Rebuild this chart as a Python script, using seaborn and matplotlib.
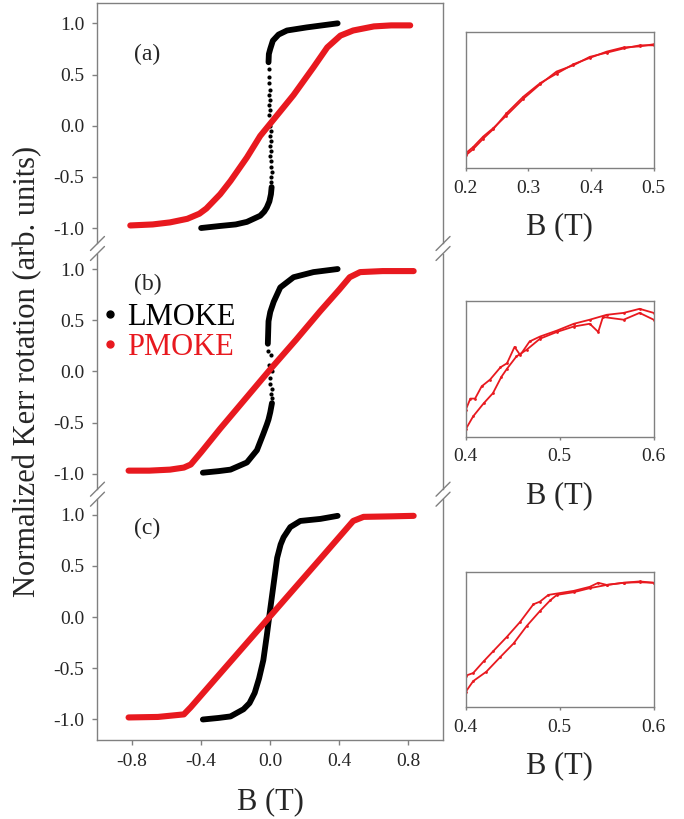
import numpy as np
import matplotlib
matplotlib.use("Agg")
import matplotlib.pyplot as plt
import seaborn as sns
from matplotlib.lines import Line2D

# ================================
# DATA
# ================================
# panel (a)
a_pm_B = [-0.81, -0.68, -0.58, -0.48, -0.41, -0.37, -0.29, -0.23, -0.135, -0.058, 0.0,
          0.058, 0.135, 0.25, 0.33, 0.406, 0.48, 0.60, 0.70, 0.81]
a_pm_M = [-0.975, -0.965, -0.945, -0.91, -0.86, -0.81, -0.67, -0.54, -0.31, -0.10, 0.02,
          0.14, 0.30, 0.57, 0.765, 0.88, 0.93, 0.97, 0.98, 0.98]
a_lm_low_B = [-0.40, -0.29, -0.20, -0.135, -0.058, -0.035, -0.02, -0.005, 0.004, 0.008]
a_lm_low_M = [-1.0, -0.98, -0.965, -0.94, -0.88, -0.84, -0.80, -0.74, -0.67, -0.60]
a_lm_up_B = [-0.01, -0.008, 0.0, 0.015, 0.048, 0.097, 0.21, 0.30, 0.39]
a_lm_up_M = [0.62, 0.70, 0.75, 0.83, 0.89, 0.93, 0.96, 0.98, 1.0]
a_sw_B = [0.006, 0.003, 0.008, 0.002, 0.005, 0.0, 0.004, 0.001, 0.006, -0.002, 0.003, -0.004,
          0.002, -0.005, 0.0, -0.006, -0.003, -0.008, -0.004, -0.007, -0.009, -0.006]
a_sw_M = [-0.55, -0.50, -0.45, -0.40, -0.35, -0.30, -0.25, -0.20, -0.15, -0.10, -0.05, 0.0,
          0.05, 0.10, 0.15, 0.20, 0.25, 0.30, 0.35, 0.42, 0.48, 0.55]

# panel (b)
b_pm_B = [-0.82, -0.70, -0.58, -0.50, -0.46, -0.40, -0.29, -0.15, 0.0, 0.15, 0.29, 0.40,
          0.46, 0.52, 0.65, 0.83]
b_pm_M = [-0.97, -0.97, -0.96, -0.94, -0.91, -0.79, -0.56, -0.28, 0.02, 0.31, 0.59, 0.80,
          0.92, 0.97, 0.98, 0.98]
b_lm_low_B = [-0.39, -0.30, -0.23, -0.135, -0.077, -0.04, -0.02, -0.01, 0.0, 0.01]
b_lm_low_M = [-0.99, -0.975, -0.96, -0.89, -0.77, -0.61, -0.52, -0.47, -0.40, -0.31]
b_lm_up_B = [-0.014, -0.012, -0.01, 0.0, 0.02, 0.058, 0.135, 0.25, 0.39]
b_lm_up_M = [0.27, 0.38, 0.49, 0.58, 0.68, 0.82, 0.92, 0.97, 1.0]
b_sw_B = [-0.012, 0.004, -0.008, 0.008, 0.0, -0.004, 0.01, 0.006, 0.012]
b_sw_M = [0.20, 0.16, 0.06, 0.0, -0.06, -0.12, -0.17, -0.22, -0.26]

# panel (c)
c_pm_B = [-0.82, -0.65, -0.50, -0.46, -0.30, -0.15, 0.0, 0.15, 0.30, 0.48, 0.54, 0.70, 0.83]
c_pm_M = [-0.98, -0.975, -0.95, -0.88, -0.57, -0.28, 0.01, 0.30, 0.59, 0.94, 0.98, 0.985, 0.99]
c_lm_B = [-0.39, -0.30, -0.23, -0.155, -0.12, -0.09, -0.065, -0.04, -0.02, 0.0, 0.02, 0.04,
          0.06, 0.077, 0.116, 0.174, 0.29, 0.39]
c_lm_M = [-1.0, -0.985, -0.97, -0.90, -0.84, -0.74, -0.60, -0.42, -0.18, 0.08, 0.33, 0.58,
          0.71, 0.78, 0.88, 0.94, 0.96, 0.99]

# insets: two field-sweep branches of PMOKE near saturation
ia_B1 = [0.2, 0.212, 0.228, 0.244, 0.265, 0.292, 0.319, 0.345, 0.372, 0.398, 0.425, 0.452, 0.478, 0.5]
ia_M1 = [0.42, 0.45, 0.50, 0.54, 0.60, 0.68, 0.75, 0.81, 0.84, 0.88, 0.90, 0.92, 0.935, 0.935]
ia_B2 = [0.2, 0.212, 0.228, 0.244, 0.265, 0.292, 0.319, 0.345, 0.372, 0.398, 0.425, 0.452, 0.478, 0.5]
ia_M2 = [0.41, 0.44, 0.49, 0.535, 0.61, 0.69, 0.755, 0.80, 0.845, 0.875, 0.905, 0.925, 0.93, 0.94]

ib_B1 = [0.4, 0.405, 0.41, 0.417, 0.426, 0.437, 0.444, 0.452, 0.458, 0.468, 0.479, 0.497,
         0.515, 0.532, 0.55, 0.568, 0.585, 0.6]
ib_M1 = [0.799, 0.82, 0.82, 0.8425, 0.855, 0.8775, 0.885, 0.915, 0.90, 0.925, 0.934, 0.945,
         0.9575, 0.965, 0.974, 0.9775, 0.985, 0.9775]
ib_B2 = [0.4, 0.408, 0.419, 0.429, 0.438, 0.444, 0.454, 0.465, 0.479, 0.497, 0.515, 0.532,
         0.541, 0.546, 0.568, 0.585, 0.6]
ib_M2 = [0.7635, 0.7875, 0.811, 0.83, 0.86, 0.875, 0.8975, 0.91, 0.93, 0.9425, 0.9525, 0.9575,
         0.9425, 0.97, 0.965, 0.9775, 0.965]

ic_B1 = [0.4, 0.408, 0.419, 0.429, 0.444, 0.458, 0.472, 0.479, 0.488, 0.497, 0.515, 0.532,
         0.541, 0.55, 0.568, 0.585, 0.6]
ic_M1 = [0.8075, 0.8125, 0.834, 0.8525, 0.88, 0.9075, 0.94, 0.945, 0.9575, 0.96, 0.965, 0.9725,
         0.98, 0.976, 0.98, 0.9825, 0.98]
ic_B2 = [0.4, 0.408, 0.422, 0.437, 0.451, 0.465, 0.479, 0.49, 0.497, 0.515, 0.532, 0.55,
         0.568, 0.585, 0.6]
ic_M2 = [0.7775, 0.7975, 0.815, 0.8425, 0.8675, 0.90, 0.9275, 0.9475, 0.9575, 0.9625, 0.97,
         0.976, 0.98, 0.981, 0.98]

main_xticks = [-0.8, -0.4, 0.0, 0.4, 0.8]
main_yticks = [-1.0, -0.5, 0.0, 0.5, 1.0]
panel_labels = ["(a)", "(b)", "(c)"]

RED = "#e8191f"
GRAY = "#808080"

# ================================
# STYLE
# ================================
sns.set_style("ticks")
plt.rcParams["font.family"] = ["Liberation Serif", "DejaVu Serif"]

fig = plt.figure(figsize=(6.84, 8.19), dpi=100)

# main stacked panels (figure fractions)
left, width = 0.1425, 0.5052
ph = 0.2999
bottoms = [0.6966, 0.3966, 0.0965]
axes = [fig.add_axes([left, b, width, ph]) for b in bottoms]

panels = [
    dict(pm=(a_pm_B, a_pm_M), lm=[(a_lm_low_B, a_lm_low_M), (a_lm_up_B, a_lm_up_M)],
         sw=(a_sw_B, a_sw_M), lab=(-0.71, 0.70)),
    dict(pm=(b_pm_B, b_pm_M), lm=[(b_lm_low_B, b_lm_low_M), (b_lm_up_B, b_lm_up_M)],
         sw=(b_sw_B, b_sw_M), lab=(-0.71, 0.85)),
    dict(pm=(c_pm_B, c_pm_M), lm=[(c_lm_B, c_lm_M)], sw=None, lab=(-0.71, 0.87)),
]

for i, (ax, p) in enumerate(zip(axes, panels)):
    for xb, yb in p["lm"]:
        sns.lineplot(x=xb, y=yb, ax=ax, color="black", lw=4.2, sort=False,
                     estimator=None, solid_capstyle="round", legend=False)
    if p["sw"] is not None:
        sns.scatterplot(x=p["sw"][0], y=p["sw"][1], ax=ax, color="black", s=9,
                        linewidth=0, legend=False)
    sns.lineplot(x=p["pm"][0], y=p["pm"][1], ax=ax, color=RED, lw=4.4, sort=False,
                 estimator=None, solid_capstyle="round", legend=False)

    ax.set_xlim(-1.0, 1.0)
    ax.set_ylim(-1.2, 1.2)
    ax.set_yticks(main_yticks)
    ax.set_yticklabels([f"{v:.1f}" for v in main_yticks])
    ax.set_xticks(main_xticks)
    ax.set_xticklabels([f"{v:.1f}" for v in main_xticks])
    ax.set_ylabel("")
    ax.set_xlabel("")
    ax.tick_params(direction="out", length=3.5, width=1, color=GRAY, labelsize=14, pad=6)
    for s in ax.spines.values():
        s.set_color(GRAY)
        s.set_linewidth(1)
    ax.patch.set_alpha(0)
    ax.text(p["lab"][0], p["lab"][1], panel_labels[i], fontsize=17, ha="center", va="center")

    gap = 0.05
    top = 1.2 if i == 0 else 1.2 - gap
    bot = -1.2 if i == 2 else -1.2 + gap
    ax.spines["left"].set_bounds(bot, top)
    ax.spines["right"].set_bounds(bot, top)
    if i > 0:
        ax.spines["top"].set_visible(False)
    if i < 2:
        ax.spines["bottom"].set_visible(False)
        ax.tick_params(axis="x", bottom=False, labelbottom=False)

axes[2].set_xlabel("B (T)", fontsize=22, labelpad=12)

# legend in panel (b)
handles = [Line2D([], [], marker="o", ls="", color="black", ms=5, label="LMOKE"),
           Line2D([], [], marker="o", ls="", color=RED, ms=5, label="PMOKE")]
axes[1].legend(handles=handles, loc="upper left", bbox_to_anchor=(0.02, 0.78),
               frameon=False, fontsize=22, handlelength=0.4, handletextpad=0.35,
               labelspacing=0.05, borderpad=0, borderaxespad=0,
               labelcolor=["black", RED])

# break marks on the left/right spines
W, H = 684.0, 819.0
for yb in [bottoms[0], bottoms[1]]:
    for xs in [left, left + width]:
        for off in [-5, 5]:
            y0 = yb + (off - 7) / H
            y1 = yb + (off + 7) / H
            fig.add_artist(Line2D([xs - 7 / W, xs + 7 / W], [y0, y1], color=GRAY, lw=1))

fig.text(0.041, 0.547, "Normalized Kerr rotation (arb. units)", rotation=90,
         fontsize=22, ha="center", va="center")

# ================================
# INSETS
# ================================
ileft, iwidth = 0.6808, 0.2749
insets = [
    dict(pos=[ileft, 0.7949, iwidth, 0.1664], xlim=(0.2, 0.5), ylim=(0.35, 1.0),
         xt=[0.2, 0.3, 0.4, 0.5], br=[(ia_B1, ia_M1), (ia_B2, ia_M2)]),
    dict(pos=[ileft, 0.4668, iwidth, 0.1661], xlim=(0.4, 0.6), ylim=(0.75, 1.0),
         xt=[0.4, 0.5, 0.6], br=[(ib_B1, ib_M1), (ib_B2, ib_M2)]),
    dict(pos=[ileft, 0.1371, iwidth, 0.1645], xlim=(0.4, 0.6), ylim=(0.75, 1.0),
         xt=[0.4, 0.5, 0.6], br=[(ic_B1, ic_M1), (ic_B2, ic_M2)]),
]
for ins in insets:
    ax = fig.add_axes(ins["pos"])
    for xb, yb in ins["br"]:
        sns.lineplot(x=xb, y=yb, ax=ax, color=RED, lw=1.3, sort=False, estimator=None,
                     marker="o", markersize=2, markeredgewidth=0, legend=False)
    ax.set_xlim(*ins["xlim"])
    ax.set_ylim(*ins["ylim"])
    ax.set_xticks(ins["xt"])
    ax.set_xticklabels([f"{v:.1f}" for v in ins["xt"]])
    ax.set_yticks([])
    ax.set_ylabel("")
    ax.set_xlabel("B (T)", fontsize=22, labelpad=11)
    ax.tick_params(direction="out", length=2.5, width=1, color=GRAY, labelsize=14, pad=6)
    for s in ax.spines.values():
        s.set_color(GRAY)
        s.set_linewidth(1)

fig.savefig("out.png", dpi=100)
